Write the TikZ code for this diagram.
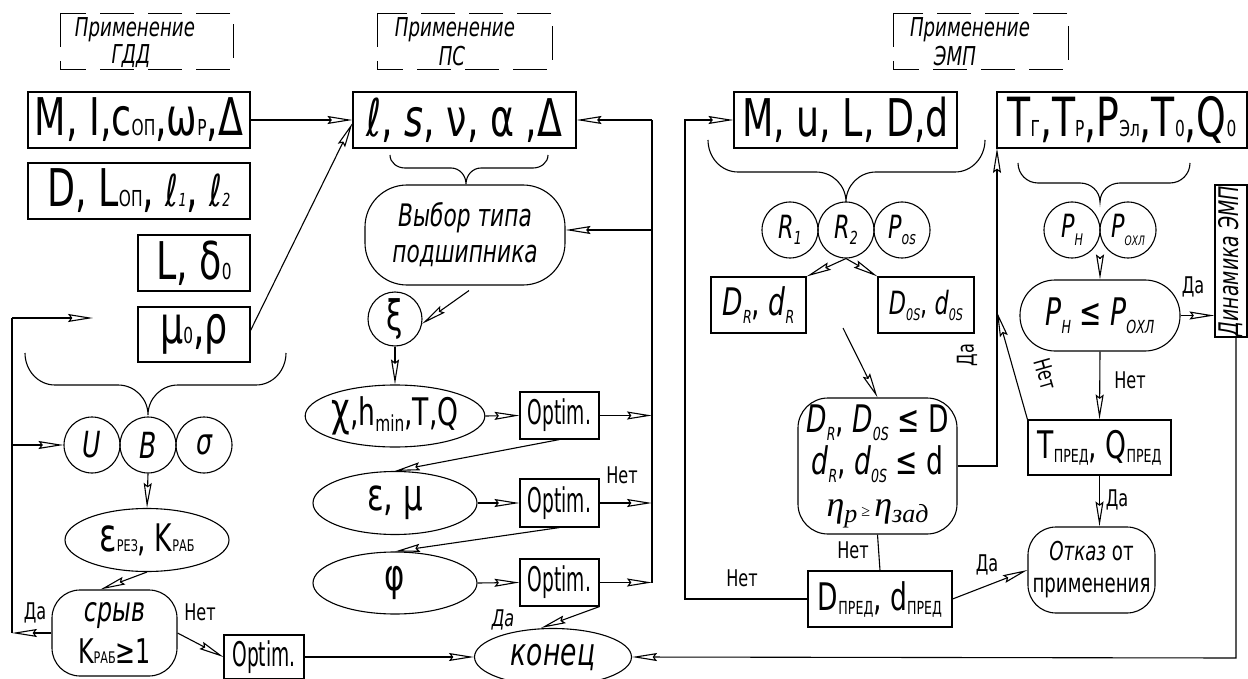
\documentclass[tikz,border=0pt]{standalone}
\usepackage{fontspec}
\setmainfont{DejaVu Sans}[FakeStretch=0.7]
\newfontfamily\narrow{DejaVu Sans}[FakeStretch=0.55]
\newfontfamily\serif{Liberation Serif}
\usetikzlibrary{arrows.meta,shapes.geometric,calc}
\newcommand\fs[1]{\fontsize{#1}{#1}\selectfont}
\newcommand\fsb[2]{\fontsize{#1}{#2}\selectfont}
\begin{document}
\begin{tikzpicture}[x=1pt,y=-1pt,line width=1.1pt,
  bx/.style 2 args={draw,rectangle,inner sep=0pt,minimum width=#1,minimum height=#2},
  el/.style 2 args={draw,ellipse,inner sep=0pt,minimum width=#1,minimum height=#2},
  cc/.style={draw,circle,inner sep=0pt,minimum size=56pt},
  rb/.style n args={3}{draw,rectangle,rounded corners=#3,inner sep=0pt,minimum width=#1,minimum height=#2,align=center},
  arr/.style={-{Stealth[open,length=25pt,width=8pt,inset=3pt]}},
  lbl/.style={font=\fs{23},inner sep=0pt},
  hdr/.style={dash pattern=on 34pt off 14pt,line width=0.9pt},
  htx/.style={font=\itshape\fs{26},inner sep=0pt},
  opt/.style={font=\narrow\fs{34}}]
\useasboundingbox (0,0) rectangle (1248,679);

% headers
\draw[hdr] (60,13) rectangle (233,69);
\node[htx] (h1a) at (135,30) {Применение};
\node[htx] (h1b) at (131,56) {ГДД};
\draw[hdr] (377,13) rectangle (552,69);
\node[htx] (h2a) at (455,30) {Применение};
\node[htx] (h2b) at (452,56) {ПС};
\draw[hdr] (893,13) rectangle (1068,69);
\node[htx] (h3a) at (970,30) {Применение};
\node[htx] (h3b) at (955,56) {ЭМП};

% left column
\node[bx={222pt}{56pt}] (A) at (139,120) {{\fs{52}M, I,c}{\fs{22}ОП}{\fs{52},ω}{\fs{22}Р}{\fs{52},Δ}};
\node[bx={222pt}{56pt}] (Bx) at (139,191) {{\fs{52}D, L}{\fs{22}ОП}{\fs{52}, }{\itshape\fs{44}ℓ}{\itshape\fs{18}1}{\fs{52}, }{\itshape\fs{44}ℓ}{\itshape\fs{18}2}};
\node[bx={112pt}{56pt}] (C) at (194,263) {{\fs{52}L, δ}{\fs{22}0}};
\node[bx={112pt}{55pt}] (D) at (194,334.5) {{\fs{52}μ}{\fs{22}0}{\fs{52},ρ}};

\draw (25,353) to[out=-90,in=180] (55,385) -- (118,385) to[out=0,in=90] (148,415)
      to[out=90,in=180] (178,385) -- (256,385) to[out=0,in=-90] (286,353);

\node[cc] (cU) at (92,445) {\itshape\fs{36}U};
\node[cc] (cB) at (148,445) {\itshape\fs{36}B};
\node[cc] (cS) at (204,445) {\itshape\fs{36}σ};
\node[el={164pt}{63pt}] (eps) at (147,540) {{\fs{46}ε}{\fs{16}РЕЗ}{\fs{38}, K}{\fs{16}РАБ}};
\node[rb={125pt}{86pt}{28pt},font=\fsb{34}{42}] (srv) at (114.5,633) {{\itshape срыв}\\K{\fs{16}РАБ}≥1};
\node[bx={80pt}{44pt},opt] (O4) at (264,657) {Optim.};

% center column
\node[bx={223pt}{56pt}] (LS) at (464.5,120) {\fs{52}{\itshape ℓ}, {\itshape s}, ν, α ,Δ};
\draw (390,155) to[out=-90,in=180] (405,168) -- (451,168) to[out=0,in=90] (466,184)
      to[out=90,in=180] (481,168) -- (533,168) to[out=0,in=-90] (548,155);
\node[rb={200pt}{100pt}{42pt},font=\itshape\fsb{31}{36}] (cloud) at (465,235) {Выбор типа\\подшипника};
\node[cc,minimum size=54pt] (xi) at (395,319) {\fs{42}ξ};
\node[el={164pt}{62pt}] (chi) at (395,416) {{\fs{46}χ}{\fs{38},h}\raisebox{-6pt}{\fs{22}min}{\fs{38},T,Q}};
\node[el={164pt}{63pt}] (emu) at (395,503) {\fs{44}ε, μ};
\node[el={164pt}{62pt}] (phi) at (395,583) {\fs{44}φ};
\node[bx={79pt}{47pt},opt] (O1) at (559.5,415.5) {Optim.};
\node[bx={79pt}{48pt},opt] (O2) at (559.5,503) {Optim.};
\node[bx={79pt}{47pt},opt] (O3) at (559.5,582.5) {Optim.};
\node[el={157pt}{57pt},font=\itshape\fs{38}] (kon) at (553,657) {конец};

% right part
\node[bx={223pt}{56pt}] (MU) at (845.5,120) {\fs{52}M, u, L, D,d};
\node[bx={250pt}{56pt}] (T) at (1122,120) {{\fs{54}T}{\fs{22}Г}{\fs{54},T}{\fs{22}Р}{\fs{54},P}{\fs{22}Эл}{\fs{54},T}{\fs{22}0}{\fs{54},Q}{\fs{22}0}};
\draw (708,140) to[out=-90,in=180] (738,172) -- (816,172) to[out=0,in=90] (846,202)
      to[out=90,in=180] (876,172) -- (955,172) to[out=0,in=-90] (985,140);
\draw (1018,163) to[out=-90,in=180] (1038,183) -- (1080,183) to[out=0,in=90] (1100,202)
      to[out=90,in=180] (1120,183) -- (1170,183) to[out=0,in=-90] (1190,163);
\node[cc] (cR1) at (790,230) {{\itshape\fs{32}R}\raisebox{-6pt}{\itshape\fs{18}1}};
\node[cc] (cR2) at (846,230) {{\itshape\fs{32}R}\raisebox{-6pt}{\itshape\fs{18}2}};
\node[cc] (cPo) at (902,230) {{\itshape\fs{32}P}\raisebox{-6pt}{\itshape\fs{18}os}};
\node[cc] (cPH) at (1072,230) {{\itshape\fs{32}P}\raisebox{-8pt}{\itshape\fs{16}H}};
\node[cc] (cPO) at (1128,230) {{\itshape\fs{32}P}\raisebox{-8pt}{\itshape\fs{13}ОХЛ}};
\node[bx={95pt}{56pt}] (DR) at (758.5,305) {{\itshape\fs{38}D}\raisebox{-8pt}{\itshape\fs{18}R}{\fs{38}, }{\itshape\fs{38}d}\raisebox{-8pt}{\itshape\fs{18}R}};
\node[bx={96pt}{56pt}] (Dos) at (926,305) {{\itshape\fs{32}D}\raisebox{-6pt}{\itshape\fs{16}0S}{\fs{32}, }{\itshape\fs{32}d}\raisebox{-6pt}{\itshape\fs{16}0S}};
\node[rb={159pt}{136pt}{30pt},font=\fsb{38}{42}] (big) at (877.5,466) {%
  {\itshape D}\raisebox{-8pt}{\itshape\fs{18}R}, {\itshape D}\raisebox{-8pt}{\itshape\fs{18}0S} ≤ D\\
  {\itshape d}\raisebox{-8pt}{\itshape\fs{18}R}, {\itshape d}\raisebox{-8pt}{\itshape\fs{18}0S} ≤ d\\
  {\serif\itshape\fs{36}η}\raisebox{-6pt}{\serif\itshape\fs{26}p}{\serif\fs{16} ≥ }{\serif\itshape\fs{36}η}\raisebox{-6pt}{\serif\itshape\fs{26}зад}};
\node[bx={144pt}{56pt}] (Dp) at (880,599) {{\fs{38}D}\raisebox{-4pt}{\fs{18}ПРЕД}{\fs{38}, d}\raisebox{-4pt}{\fs{18}ПРЕД}};
\node[rb={160pt}{71pt}{35pt}] (st) at (1100,315.5) {{\itshape\fs{38}P}\raisebox{-8pt}{\itshape\fs{18}H}{\fs{38} ≤ }{\itshape\fs{38}P}\raisebox{-8pt}{\itshape\fs{18}ОХЛ}};
\node[bx={32pt}{152pt}] (Dyn) at (1231,261) {};
\node[rotate=90,font=\itshape\fs{27},inner sep=0pt] (DynT) at (Dyn.center) {Динамика ЭМП};
\node[bx={143pt}{55pt}] (Tp) at (1099.5,447.5) {{\fs{38}T}\raisebox{-4pt}{\fs{18}ПРЕД}{\fs{38}, Q}\raisebox{-4pt}{\fs{18}ПРЕД}};
\node[rb={127pt}{86pt}{28pt},font=\fsb{26}{32}] (otk) at (1091.5,570) {{\itshape Отказ} от\\применения};

% ---- connectors left
\draw[arr] (A.east) -- (LS.west);
\draw[arr] ([yshift=4pt]D.east) -- ([yshift=-3pt]LS.west);
\coordinate (L1) at (12,633);
\coordinate (L2) at (12,318);
\coordinate (L2e) at (93,318);
\coordinate (L3) at (12,445);
\draw[arr] (srv.west) -- (L1);
\draw (L1) -- (L2);
\draw[arr] (L2) -- (L2e);
\draw[arr] (L3) -- (cU.west);
\draw[arr] (cB.south) -- (eps.north);
\draw[arr] (eps.south) -- ([xshift=-14pt]srv.north);
\draw[arr] (srv.east) -- (O4.west);
\draw[arr] (O4.east) -- (kon.west);
\node[lbl] (l1) at (35,613) {Да};
\node[lbl] (l2) at (200,612) {Нет};

% ---- connectors center
\coordinate (R1) at (652,120);
\coordinate (R2) at (652,230);
\coordinate (Rb) at (652,583);
\draw (R1) -- (Rb);
\draw[arr] (R1) -- (LS.east);
\draw[arr] (R2) -- (R2 -| cloud.east);
\draw[arr] ([xshift=4pt,yshift=-5pt]cloud.south) -- (xi.-10);
\draw[arr] (xi.south) -- (chi.north);
\draw[arr] (chi.east) -- (O1.west);
\draw[arr] (O1.east) -- (O1.east -| R1);
\draw[arr] (O1.south) -- (emu.north);
\draw[arr] (emu.east) -- (O2.west);
\draw[arr] (O2.east) -- (O2.east -| R1);
\draw[arr] (O2.south) -- (phi.north);
\draw[arr] (phi.east) -- (O3.west);
\draw[arr] (O3.east) -- (O3.east -| R1);
\draw[arr] (O3.south east) -- ([xshift=-12pt]kon.north);
\node[lbl] (l3) at (622,475) {Нет};
\node[lbl,font=\itshape\fs{23}] (l4) at (503,620) {Да};

% ---- connectors right
\coordinate (ML1) at (685,120);
\coordinate (ML2) at (685,599);
\draw[arr] (Dp.west) -- (ML2) -- (ML1) -- (MU.west);
\node[lbl] (l5) at (742,578) {Нет};
\draw[arr] (cR2.south) -- (DR.north east);
\draw[arr] (cR2.south) -- (Dos.north west);
\coordinate (fs) at (843,328);
\draw[arr] (fs) -- (big.north);
\draw (big.south) -- (Dp.north);
\node[lbl] (l6) at (853,550) {Нет};
\draw[arr] (Dp.east) -- (otk.west);
\node[lbl] (l7) at (987,565) {Да};
\coordinate (TL) at (997,148);
\draw[arr] (big.east) -- (big.east -| TL) -- (TL);
\node[lbl,rotate=90] (l8) at (967,355) {Да};
\coordinate (TN) at (997,312);
\draw[arr] (Tp.north west) -- (TN);
\node[lbl,rotate=-74] (l9) at (1046,374) {Нет};
\draw[arr] (1100,258) -- (st.north);
\draw[arr] (st.east) -- (st.east -| Dyn.west);
\node[lbl] (l10) at (1193,287) {Да};
\coordinate (DB) at (1236,658);
\draw[arr] (Dyn.south -| DB) -- (DB) -- (kon.east);
\draw[arr] (st.south) -- (Tp.north);
\node[lbl] (l11) at (1130,380) {Нет};
\draw[arr] (Tp.south) -- (Tp.south |- otk.north);
\node[lbl] (l12) at (1117,500) {Да};
\end{tikzpicture}
\end{document}
